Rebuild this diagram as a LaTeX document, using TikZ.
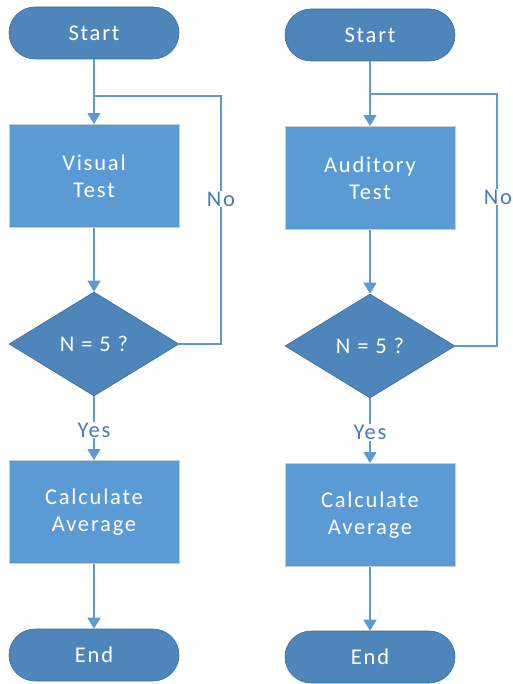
\documentclass[tikz,border=0pt]{standalone}
\usepackage{fontspec}
\setmainfont[LetterSpace=8]{Carlito}
\usetikzlibrary{shapes.geometric,arrows.meta}
\definecolor{term}{RGB}{78,134,188}
\definecolor{proc}{RGB}{91,155,213}
\definecolor{lin}{RGB}{91,155,213}
\definecolor{lbl}{RGB}{70,124,186}
\begin{document}
\begin{tikzpicture}[x=1pt,y=-1pt,
  every node/.style={font=\fontsize{22.5}{27}\selectfont},
  termbox/.style={draw=term!80!black, line width=0.6pt, fill=term, rounded corners=26pt, minimum width=170pt, minimum height=52pt, inner sep=0pt, text=white},
  procbox/.style={draw=black!20, line width=0.8pt, fill=proc, minimum width=170pt, minimum height=103pt, inner sep=0pt, text=white, align=center},
  decbox/.style={diamond, draw=term!80!black, line width=0.6pt, fill=term, minimum width=170pt, minimum height=104pt, aspect=1.63, inner sep=0pt, text=white},
  conn/.style={draw=lin, line width=1.5pt},
  arr/.style={conn, -{Triangle[width=13pt,length=11pt]}},
  lab/.style={fill=white, text=lbl, inner sep=1pt}
]
\useasboundingbox (0,0) rectangle (512,684);

% left column
\node[termbox] (s1) at (94,33) {Start};
\node[procbox] (p1) at (94,176) {Visual\\Test};
\node[decbox] (d1) at (94,344) {N = 5 ?};
\node[procbox] (c1) at (94,512) {Calculate\\Average};
\node[termbox] (e1) at (94,655) {End};
\coordinate (j1) at (94,96);
\draw[arr] (s1) -- (p1);
\draw[arr] (p1) -- (d1);
\draw[conn] (d1.east) -| (221,96) -- (j1);
\node[lab] at (221,199) {No};
\draw[arr] (d1) -- (c1) node[lab, pos=0.53] {Yes};
\draw[arr] (c1) -- (e1);

% right column
\node[termbox] (s2) at (370,35) {Start};
\node[procbox] (p2) at (370,178) {Auditory\\Test};
\node[decbox] (d2) at (370,346) {N = 5 ?};
\node[procbox] (c2) at (370,515) {Calculate\\Average};
\node[termbox] (e2) at (370,657) {End};
\coordinate (j2) at (370,94);
\draw[arr] (s2) -- (p2);
\draw[arr] (p2) -- (d2);
\draw[conn] (d2.east) -| (497,94) -- (j2);
\node[lab] at (498,197) {No};
\draw[arr] (d2) -- (c2) node[lab, pos=0.53] {Yes};
\draw[arr] (c2) -- (e2);
\end{tikzpicture}
\end{document}
